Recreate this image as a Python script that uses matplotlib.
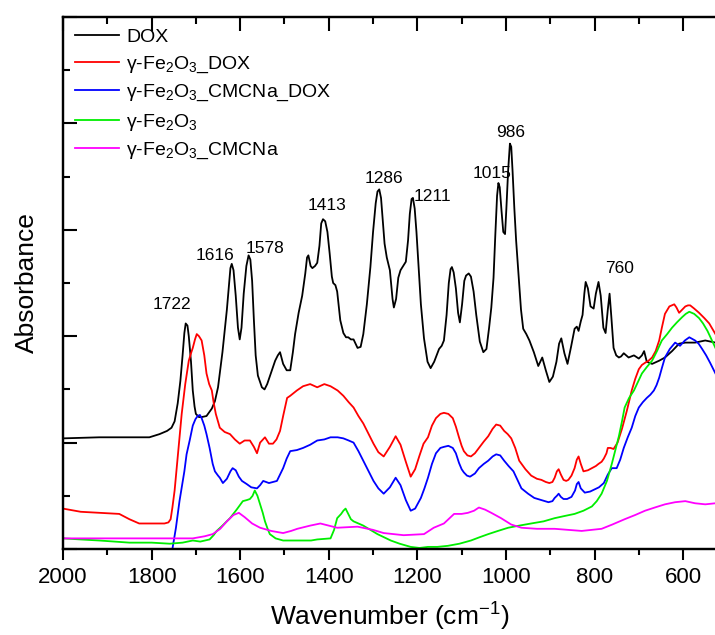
import matplotlib
matplotlib.use('Agg')
import matplotlib.pyplot as plt
from matplotlib.ticker import MultipleLocator

plt.rcParams['font.family'] = ['Liberation Sans', 'DejaVu Sans']
plt.rcParams['mathtext.fontset'] = 'custom'
plt.rcParams['mathtext.rm'] = 'Liberation Sans'
plt.rcParams['mathtext.it'] = 'Liberation Sans'

# DOX (black)
dox_wn = [2000, 1918, 1805, 1782, 1765, 1755, 1748, 1741, 1735, 1730, 1726, 1723, 1719, 1716,
          1711, 1707, 1703, 1700, 1693, 1687, 1676, 1664, 1657, 1650, 1646, 1640, 1635, 1630,
          1626, 1622, 1619, 1615, 1610, 1605, 1601, 1597, 1592, 1586, 1581, 1577, 1573, 1569,
          1565, 1560, 1551, 1545, 1539, 1530, 1521, 1515, 1510, 1503, 1495, 1487, 1481, 1476,
          1468, 1460, 1453, 1449, 1446, 1441, 1437, 1431, 1426, 1421, 1417, 1413, 1408, 1403,
          1398, 1393, 1390, 1385, 1381, 1374, 1367, 1361, 1356, 1350, 1344, 1335, 1328, 1322,
          1314, 1306, 1300, 1294, 1290, 1286, 1282, 1278, 1274, 1269, 1262, 1256, 1253, 1248,
          1243, 1238, 1232, 1226, 1221, 1217, 1213, 1210, 1206, 1202, 1197, 1192, 1185, 1177,
          1170, 1162, 1151, 1145, 1140, 1134, 1129, 1125, 1122, 1118, 1113, 1108, 1104, 1099,
          1094, 1090, 1084, 1079, 1073, 1067, 1059, 1051, 1044, 1038, 1033, 1028, 1024, 1020,
          1017, 1014, 1010, 1006, 1002, 999, 995, 991, 988, 985, 981, 977, 972, 966, 961, 954,
          947, 937, 927, 918, 910, 902, 894, 886, 880, 875, 868, 861, 853, 845, 840, 836, 831,
          827, 823, 820, 815, 809, 802, 797, 791, 786, 780, 775, 770, 766, 762, 757, 751, 745,
          740, 734, 723, 711, 700, 693, 688, 682, 670, 654, 641, 625, 609, 595, 573, 550, 527]
dox_ab = [1.04, 1.05, 1.05, 1.08, 1.11, 1.14, 1.20, 1.37, 1.58, 1.82, 2.03, 2.12, 2.10, 2.00,
          1.76, 1.49, 1.34, 1.27, 1.24, 1.24, 1.25, 1.32, 1.39, 1.52, 1.65, 1.85, 2.05, 2.25,
          2.45, 2.64, 2.68, 2.62, 2.38, 2.08, 1.97, 2.08, 2.40, 2.66, 2.76, 2.72, 2.52, 2.15,
          1.82, 1.63, 1.52, 1.50, 1.55, 1.66, 1.77, 1.82, 1.85, 1.74, 1.68, 1.68, 1.85, 2.02,
          2.22, 2.38, 2.59, 2.74, 2.76, 2.66, 2.64, 2.66, 2.69, 2.85, 3.06, 3.10, 3.08, 2.98,
          2.78, 2.56, 2.50, 2.48, 2.42, 2.15, 2.03, 1.99, 1.99, 1.97, 1.97, 1.89, 1.90, 2.02,
          2.30, 2.65, 2.98, 3.25, 3.36, 3.38, 3.30, 3.08, 2.87, 2.74, 2.62, 2.35, 2.27, 2.35,
          2.55, 2.62, 2.66, 2.70, 2.90, 3.15, 3.29, 3.30, 3.20, 2.98, 2.64, 2.30, 1.98, 1.76,
          1.70, 1.76, 1.88, 1.91, 1.96, 2.20, 2.50, 2.63, 2.65, 2.60, 2.45, 2.22, 2.13, 2.30,
          2.52, 2.57, 2.59, 2.56, 2.42, 2.20, 1.95, 1.85, 1.88, 2.08, 2.27, 2.55, 2.95, 3.32,
          3.44, 3.40, 3.18, 2.98, 2.96, 3.20, 3.56, 3.81, 3.78, 3.55, 3.20, 2.90, 2.60, 2.25, 2.07, 2.02,
          1.96, 1.85, 1.72, 1.80, 1.68, 1.57, 1.62, 1.76, 1.93, 1.98, 1.84, 1.74, 1.90, 2.07, 2.09, 2.05, 2.14,
          2.20, 2.40, 2.51, 2.45, 2.28, 2.26, 2.40, 2.51, 2.38, 2.08, 2.03, 2.25, 2.40, 2.18, 1.89, 1.82, 1.80,
          1.81, 1.84, 1.80, 1.82, 1.79, 1.82, 1.86, 1.76, 1.74, 1.77, 1.80, 1.86, 1.93, 1.94, 1.94, 1.96, 1.94]

# g-Fe2O3_DOX (red)
fe_dox_wn = [2000, 1960, 1918, 1873, 1850, 1828, 1805, 1771, 1762, 1757, 1753, 1748, 1744, 1738,
             1732, 1724, 1716, 1711, 1707, 1702, 1698, 1693, 1687, 1681, 1676, 1670, 1664, 1660,
             1655, 1646, 1635, 1623, 1612, 1601, 1590, 1578, 1569, 1562, 1555, 1544, 1535, 1526,
             1518, 1510, 1503, 1494, 1487, 1472, 1458, 1442, 1426, 1410, 1396, 1380, 1367, 1355,
             1344, 1333, 1322, 1310, 1299, 1288, 1276, 1262, 1249, 1238, 1226, 1215, 1205, 1195,
             1186, 1176, 1167, 1158, 1148, 1140, 1130, 1120, 1113, 1106, 1100, 1095, 1087, 1079,
             1070, 1061, 1050, 1040, 1030, 1022, 1013, 1004, 996, 988, 979, 970, 956, 943, 930,
             920, 910, 902, 895, 890, 885, 881, 876, 870, 864, 859, 852, 845, 840, 836, 831, 825,
             815, 806, 797, 791, 784, 779, 773, 770, 764, 757, 748, 738, 727, 716, 708, 700, 693,
             686, 678, 670, 662, 654, 648, 641, 631, 620, 615, 609, 602, 595, 589, 584, 575, 564,
             552, 541, 527]
fe_dox_ab = [0.38, 0.35, 0.34, 0.33, 0.28, 0.24, 0.24, 0.24, 0.25, 0.28, 0.39, 0.55, 0.73, 1.00,
             1.27, 1.55, 1.77, 1.84, 1.89, 1.97, 2.02, 2.00, 1.96, 1.82, 1.65, 1.55, 1.49, 1.38,
             1.27, 1.14, 1.10, 1.08, 1.03, 0.99, 1.02, 1.02, 0.96, 0.90, 1.00, 1.05, 0.99, 0.99,
             1.03, 1.11, 1.25, 1.42, 1.44, 1.49, 1.53, 1.55, 1.52, 1.55, 1.53, 1.49, 1.44, 1.38,
             1.33, 1.25, 1.18, 1.08, 0.99, 0.91, 0.87, 0.96, 1.06, 0.98, 0.82, 0.68, 0.75, 0.88,
             0.99, 1.05, 1.16, 1.23, 1.27, 1.28, 1.27, 1.23, 1.15, 1.05, 0.97, 0.92, 0.88, 0.87,
             0.90, 0.95, 1.01, 1.06, 1.13, 1.17, 1.16, 1.11, 1.08, 1.04, 0.95, 0.83, 0.75, 0.69, 0.66,
             0.65, 0.63, 0.62, 0.63, 0.67, 0.73, 0.75, 0.70, 0.65, 0.64, 0.65, 0.69, 0.76, 0.84, 0.87, 0.80, 0.73,
             0.74, 0.76, 0.78, 0.80, 0.82, 0.85, 0.90, 0.95, 0.95, 0.94, 1.00, 1.13, 1.30, 1.49, 1.60, 1.69, 1.73,
             1.75, 1.77, 1.80, 1.86, 1.96, 2.08, 2.21, 2.28, 2.30, 2.27, 2.22, 2.25, 2.28, 2.29, 2.29, 2.26, 2.22,
             2.17, 2.12, 2.02]

# g-Fe2O3_CMCNa_DOX (blue)
fe_cmc_dox_wn = [1753, 1745, 1737, 1731, 1726, 1721, 1714, 1707, 1701, 1696, 1691, 1687, 1681,
                 1676, 1669, 1662, 1657, 1650, 1646, 1639, 1630, 1622, 1617, 1610, 1603, 1596,
                 1585, 1575, 1562, 1555, 1548, 1535, 1517, 1510, 1503, 1495, 1487, 1472, 1458,
                 1442, 1426, 1410, 1396, 1380, 1367, 1355, 1344, 1333, 1322, 1310, 1299, 1288,
                 1276, 1262, 1249, 1238, 1226, 1215, 1205, 1192, 1184, 1176, 1167, 1158, 1148,
                 1140, 1130, 1120, 1113, 1106, 1100, 1095, 1088, 1081, 1070, 1061, 1050, 1040,
                 1030, 1022, 1013, 1004, 994, 983, 974, 965, 950, 936, 920, 904, 895, 890, 885,
                 881, 876, 870, 862, 852, 844, 840, 836, 831, 822, 810, 800, 790, 779, 770, 761,
                 750, 742, 734, 725, 716, 708, 700, 691, 682, 674, 666, 660, 654, 648, 641, 630,
                 618, 607, 596, 586, 573, 565, 557, 548, 539, 527]
fe_cmc_dox_ab = [0.00, 0.20, 0.45, 0.60, 0.73, 0.89, 1.02, 1.16, 1.22, 1.25, 1.26, 1.23, 1.16,
                 1.08, 0.95, 0.80, 0.73, 0.69, 0.67, 0.62, 0.66, 0.73, 0.76, 0.74, 0.68, 0.64,
                 0.61, 0.58, 0.57, 0.60, 0.64, 0.62, 0.64, 0.70, 0.76, 0.85, 0.92, 0.93, 0.95,
                 0.98, 1.02, 1.03, 1.05, 1.05, 1.04, 1.02, 1.00, 0.92, 0.83, 0.73, 0.64, 0.57,
                 0.52, 0.58, 0.67, 0.60, 0.46, 0.36, 0.38, 0.48, 0.57, 0.67, 0.80, 0.90, 0.95,
                 0.96, 0.97, 0.95, 0.90, 0.81, 0.75, 0.72, 0.69, 0.68, 0.71, 0.76, 0.80, 0.83,
                 0.87, 0.89, 0.88, 0.83, 0.78, 0.73, 0.65, 0.57, 0.52, 0.48, 0.46, 0.44, 0.45, 0.48, 0.50,
                 0.52, 0.49, 0.47, 0.47, 0.49, 0.55, 0.61, 0.63, 0.57, 0.53, 0.54, 0.56, 0.58, 0.62, 0.70, 0.76,
                 0.76, 0.84, 0.95, 1.05, 1.14, 1.25, 1.33, 1.38, 1.42, 1.45, 1.49, 1.54, 1.61, 1.70, 1.80, 1.88,
                 1.94, 1.91, 1.96, 1.99, 1.96, 1.93, 1.88, 1.82, 1.75, 1.65]

# g-Fe2O3 (green)
fe_wn = [2000, 1960, 1918, 1850, 1800, 1759, 1730, 1707, 1690, 1669, 1660, 1653, 1640, 1623,
         1608, 1594, 1585, 1578, 1572, 1567, 1561, 1555, 1549, 1544, 1538, 1533, 1520, 1503,
         1471, 1440, 1426, 1396, 1388, 1381, 1372, 1367, 1362, 1356, 1350, 1344, 1333, 1322,
         1306, 1290, 1275, 1260, 1240, 1215, 1195, 1176, 1155, 1131, 1105, 1079, 1060, 1040,
         1018, 995, 970, 943, 915, 890, 868, 845, 825, 806, 795, 784, 772, 761, 753, 745, 738,
         732, 722, 711, 702, 693, 682, 670, 659, 648, 636, 625, 614, 602, 594, 586, 575, 564,
         555, 545, 536, 527]
fe_ab = [0.10, 0.09, 0.08, 0.06, 0.06, 0.05, 0.06, 0.08, 0.07, 0.09, 0.13, 0.17, 0.22, 0.29,
         0.37, 0.45, 0.46, 0.47, 0.50, 0.55, 0.50, 0.42, 0.34, 0.26, 0.19, 0.14, 0.10, 0.08,
         0.08, 0.08, 0.09, 0.10, 0.18, 0.29, 0.33, 0.36, 0.38, 0.33, 0.28, 0.26, 0.24, 0.22,
         0.18, 0.14, 0.11, 0.08, 0.05, 0.02, 0.01, 0.02, 0.02, 0.03, 0.05, 0.08, 0.11, 0.14,
         0.17, 0.20, 0.22, 0.24, 0.26, 0.29, 0.31, 0.33, 0.36, 0.40, 0.45, 0.52, 0.64, 0.80, 0.93, 1.06, 1.20,
         1.33, 1.42, 1.49, 1.57, 1.65, 1.71, 1.77, 1.86, 1.96, 2.02, 2.08, 2.13, 2.18, 2.21, 2.23, 2.21, 2.17,
         2.12, 2.05, 1.97, 1.89]

# g-Fe2O3_CMCNa (magenta)
fe_cmc_wn = [2000, 1748, 1707, 1680, 1662, 1645, 1630, 1615, 1603, 1590, 1573, 1555, 1530, 1503,
             1485, 1471, 1442, 1419, 1400, 1381, 1335, 1300, 1276, 1231, 1185, 1163, 1140, 1117,
             1100, 1086, 1072, 1061, 1047, 1033, 1011, 988, 965, 930, 890, 829, 784, 760, 732,
             708, 686, 664, 641, 618, 595, 573, 550, 527]
fe_cmc_ab = [0.10, 0.10, 0.10, 0.12, 0.14, 0.19, 0.26, 0.32, 0.34, 0.30, 0.24, 0.20, 0.17, 0.15,
             0.17, 0.19, 0.22, 0.24, 0.22, 0.20, 0.21, 0.18, 0.15, 0.13, 0.14, 0.20, 0.24, 0.33,
             0.33, 0.34, 0.36, 0.39, 0.37, 0.34, 0.29, 0.23, 0.20, 0.19, 0.19, 0.17, 0.19, 0.23, 0.28,
             0.32, 0.36, 0.39, 0.42, 0.44, 0.45, 0.43, 0.42, 0.43]

peak_labels = ['1722', '1616', '1578', '1413', '1286', '1211', '1015', '986', '760']
peak_x = [1755, 1657, 1544, 1405, 1276, 1165, 1031, 990, 743]
peak_y = [2.30, 2.76, 2.82, 3.23, 3.48, 3.31, 3.53, 3.91, 2.64]

series = [
    (dox_wn, dox_ab, 'black', 'DOX'),
    (fe_dox_wn, fe_dox_ab, '#ff0000', 'γ-Fe$_2$O$_3$_DOX'),
    (fe_cmc_dox_wn, fe_cmc_dox_ab, '#0000ff', 'γ-Fe$_2$O$_3$_CMCNa_DOX'),
    (fe_wn, fe_ab, '#00ee00', 'γ-Fe$_2$O$_3$'),
    (fe_cmc_wn, fe_cmc_ab, '#ff00ff', 'γ-Fe$_2$O$_3$_CMCNa'),
]

fig = plt.figure(figsize=(7.15, 6.35), dpi=100)
ax = fig.add_axes([0.0881, 0.1354, 0.915, 0.8378])

for wn, ab, col, lab in series:
    ax.plot(wn, ab, color=col, lw=1.3, label=lab)

for lab, x, y in zip(peak_labels, peak_x, peak_y):
    ax.text(x, y, lab, fontsize=12.5, ha='center', va='center')

ax.set_xlim(2000, 523)
ax.set_ylim(0, 5)
ax.xaxis.set_major_locator(MultipleLocator(200))
ax.xaxis.set_minor_locator(MultipleLocator(100))
ax.yaxis.set_major_locator(MultipleLocator(1))
ax.yaxis.set_minor_locator(MultipleLocator(0.5))
ax.tick_params(axis='x', which='major', direction='out', length=8, width=1.5, labelsize=16, pad=5)
ax.tick_params(axis='x', which='minor', direction='out', length=4, width=1.5)
ax.tick_params(axis='y', which='major', direction='in', length=10, width=1.5, labelleft=False)
ax.tick_params(axis='y', which='minor', direction='in', length=5, width=1.5)
for s in ax.spines.values():
    s.set_linewidth(1.6)

# mirrored ticks on the top edge point inward
top = ax.twiny()
top.set_xlim(ax.get_xlim())
top.xaxis.set_ticks_position('top')
top.xaxis.set_major_locator(MultipleLocator(200))
top.xaxis.set_minor_locator(MultipleLocator(100))
top.tick_params(axis='x', which='major', direction='in', length=10, width=1.5, labeltop=False)
top.tick_params(axis='x', which='minor', direction='in', length=5, width=1.5)
for s in top.spines.values():
    s.set_linewidth(1.6)

ax.set_xlabel('Wavenumber (cm$^{-1}$)', fontsize=19, labelpad=9)
ax.set_ylabel('Absorbance', fontsize=19, labelpad=14)

ax.legend(loc='upper left', frameon=False, fontsize=14, handlelength=2.3, handletextpad=0.35,
          labelspacing=0.42, borderaxespad=0.3, borderpad=0.3)

fig.savefig('out.png', dpi=100)
